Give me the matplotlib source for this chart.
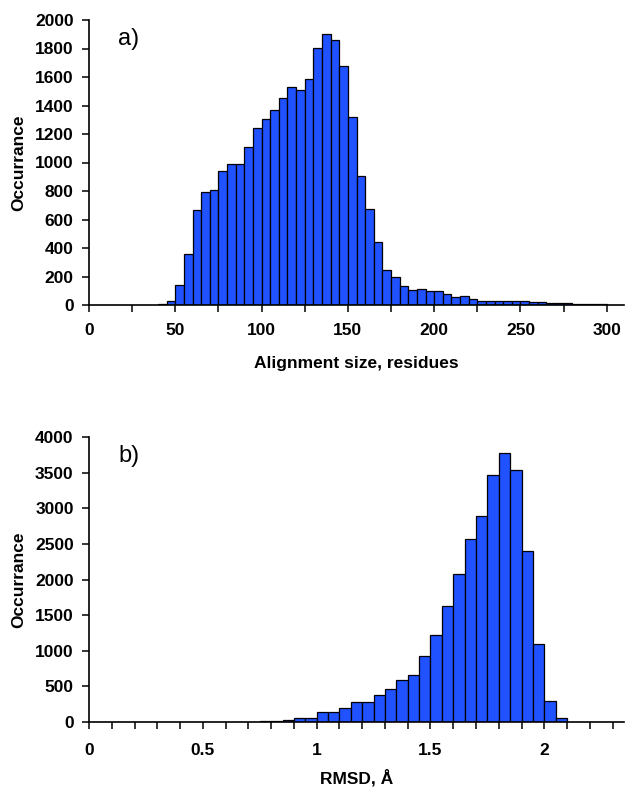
import numpy as np
import matplotlib
matplotlib.use("Agg")
import matplotlib.pyplot as plt

plt.rcParams['font.family'] = ['Liberation Sans', 'DejaVu Sans']

# a) alignment size histogram, 5-residue bins
size_start = 40
size_width = 5
size_counts = [10, 30, 140, 360, 668, 792, 804, 942, 988, 988,
               1107, 1243, 1306, 1367, 1456, 1530, 1509, 1584, 1801, 1902,
               1860, 1678, 1322, 902, 675, 442, 243, 194, 136, 107,
               114, 96, 96, 78, 54, 66, 42, 25, 25, 25,
               25, 25, 25, 24, 18, 17, 17, 16, 8, 7,
               7, 6]

# b) RMSD histogram, 0.05 A bins
rmsd_start = 0.75
rmsd_width = 0.05
rmsd_counts = [8, 15, 28, 62, 62, 135, 140, 192, 286, 281,
               380, 469, 596, 666, 924, 1215, 1627, 2082, 2565, 2898,
               3461, 3780, 3536, 2401, 1093, 295, 61]

size_edges = size_start + size_width * np.arange(len(size_counts))
rmsd_edges = rmsd_start + rmsd_width * np.arange(len(rmsd_counts))

bar_color = '#2152ff'
W, H = 627, 788
fig = plt.figure(figsize=(W / 100, H / 100), dpi=100)

ax1 = fig.add_axes([89 / W, 1 - 305 / H, 535 / W, 285 / H])
ax2 = fig.add_axes([89 / W, 1 - 722 / H, 535 / W, 285 / H])


def style(ax, xpad):
    for s in ['top', 'right']:
        ax.spines[s].set_visible(False)
    for s in ['left', 'bottom']:
        ax.spines[s].set_linewidth(1.2)
    ax.tick_params(which='both', direction='out', length=5, width=1.1,
                   labelsize=12.5)
    ax.tick_params(axis='x', which='both', pad=xpad)
    ax.tick_params(axis='y', pad=6)
    for lab in ax.get_xticklabels() + ax.get_yticklabels():
        lab.set_fontweight('bold')


ax1.bar(size_edges, size_counts, width=size_width, align='edge',
        color=bar_color, edgecolor='black', linewidth=0.9)
ax1.set_xlim(0, 310)
ax1.set_ylim(0, 2000)
ax1.set_xticks(np.arange(0, 301, 50))
ax1.set_xticks(np.arange(25, 301, 50), minor=True)
ax1.set_yticks(np.arange(0, 2001, 200))
style(ax1, 8)
ax1.set_xlabel('Alignment size, residues', fontsize=12.5, fontweight='bold',
               labelpad=13)
ax1.set_ylabel('Occurrance', fontsize=12.5, fontweight='bold', labelpad=6)
ax1.text(0.055, 0.912, 'a)', transform=ax1.transAxes, fontsize=17)

ax2.bar(rmsd_edges, rmsd_counts, width=rmsd_width, align='edge',
        color=bar_color, edgecolor='black', linewidth=0.9)
ax2.set_xlim(0, 2.35)
ax2.set_ylim(0, 4000)
ax2.set_xticks([0, 0.5, 1, 1.5, 2])
ax2.set_xticklabels(['0', '0.5', '1', '1.5', '2'])
ax2.set_xticks(np.arange(0.1, 2.31, 0.1), minor=True)
ax2.set_yticks(np.arange(0, 4001, 500))
style(ax2, 10)
ax2.set_xlabel('RMSD, Å', fontsize=12.5, fontweight='bold', labelpad=8)
ax2.set_ylabel('Occurrance', fontsize=12.5, fontweight='bold', labelpad=6)
ax2.text(0.055, 0.912, 'b)', transform=ax2.transAxes, fontsize=17)

fig.savefig('out.png', dpi=100)
